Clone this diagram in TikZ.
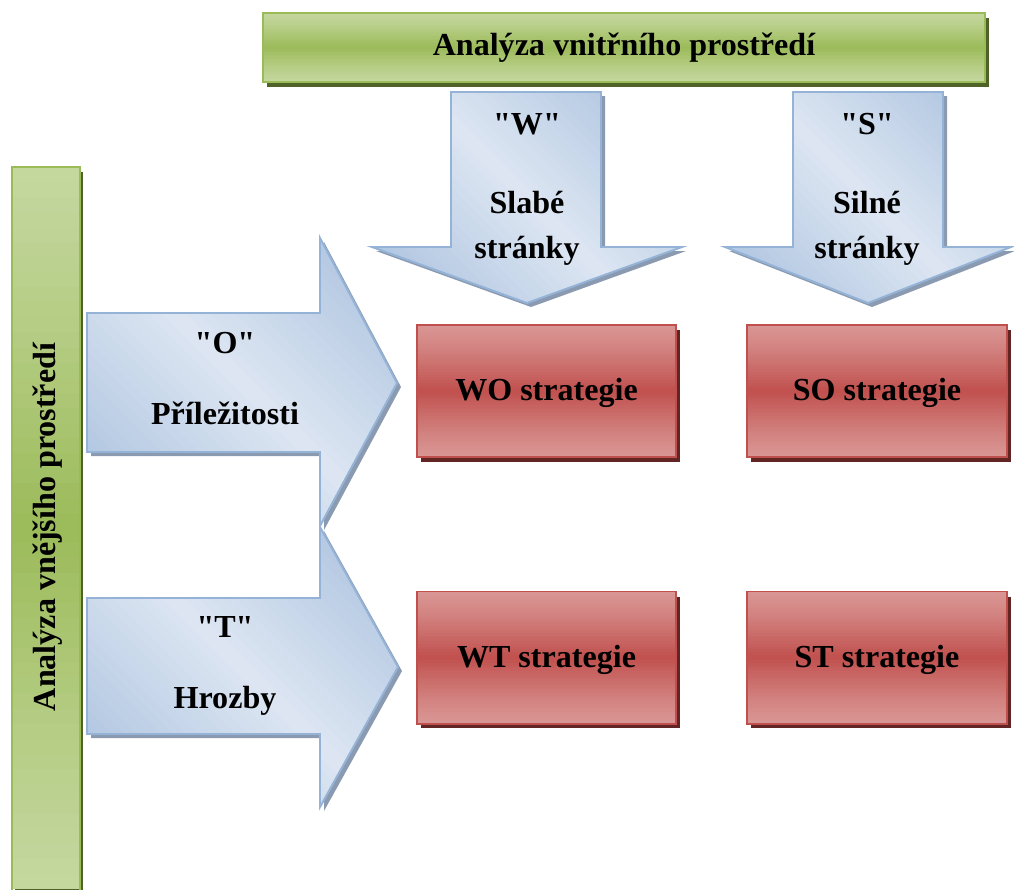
\documentclass[tikz,border=0pt]{standalone}
\usepackage{fontspec}
\newfontfamily\lbfont{Liberation Serif}
\definecolor{grnL}{HTML}{C4D79E}
\definecolor{grnD}{HTML}{9BBB59}
\definecolor{grnB}{HTML}{9BBB59}
\definecolor{grnS}{HTML}{4F6228}
\definecolor{bluL}{HTML}{DDE6F2}
\definecolor{bluD}{HTML}{A5BEDD}
\definecolor{bluB}{HTML}{95B3D7}
\definecolor{bluS}{HTML}{8A9AB0}
\definecolor{redL}{HTML}{D99694}
\definecolor{redD}{HTML}{C0504D}
\definecolor{redB}{HTML}{C0504D}
\definecolor{redS}{HTML}{632523}
% vertical three-stop gradient: x1 y1 x2 y2 light dark
\newcommand\vgrad[6]{%
  \pgfmathsetmacro\hh{(#4-#2)/48}%
  \foreach \i in {0,...,47}{%
    \pgfmathsetmacro\ya{#2+\hh*\i}%
    \pgfmathsetmacro\yb{min(#4,#2+\hh*(\i+1.4))}%
    \pgfmathsetmacro\p{100*(1-abs(2*(\i+0.5)/48-1))^1.2}%
    \fill[#6!\p!#5] (#1,\ya) rectangle (#3,\yb);
  }%
}
% diagonal gradient (dark lower-left and upper-right, light middle) inside current clip
\newcommand\dgrad[4]{%
  \pgfmathsetmacro\ca{#1-#4}%
  \pgfmathsetmacro\cw{(#3-#2-#1+#4)/48}%
  \foreach \i in {0,...,47}{%
    \pgfmathsetmacro\cu{\ca+\cw*\i}%
    \pgfmathsetmacro\cv{\ca+\cw*(\i+1.4)}%
    \pgfmathsetmacro\p{100*(1-abs(2*(\i+0.5)/48-1))}%
    \fill[bluL!\p!bluD] (\cu-300,-300) -- (\cu+1300,1300) -- (\cv+1300,1300) -- (\cv-300,-300) -- cycle;
  }%
}
\tikzset{
  lbl/.style={font=\lbfont\fontsize{22.8}{32}\selectfont\bfseries, align=center, inner sep=0pt},
  greenedge/.style={draw=grnB, line width=1.4pt},
  greenshadow/.style={fill=grnS},
  blueedge/.style={draw=bluB, line width=1.4pt},
  blueshadow/.style={fill=bluS},
  redbox/.style={draw=redB, line width=1.4pt, minimum width=6.475cm, minimum height=3.3cm, inner sep=0pt},
  redshadow/.style={fill=redS},
}
\begin{document}
\begin{tikzpicture}[x=0.025cm, y=-0.025cm]
\useasboundingbox (0,0) rectangle (1014,889);
\begin{scope}
\clip (0,0) rectangle (1014,889);
% ---------- top bar
\fill[greenshadow] (267,18) rectangle (989,87);
\vgrad{263}{13}{985}{82}{grnL}{grnD}
\node[greenedge, minimum width=18.05cm, minimum height=1.725cm, inner sep=0pt] (inner) at (624,47.5) {};
\node[lbl, anchor=base] (innerlbl) at (624,55) {Analýza vnitřního prostředí};
% ---------- left bar
\fill[greenshadow] (15,172) rectangle (83,905);
\vgrad{12}{167}{80}{889}{grnL}{grnD}
\draw[greenedge] (12,905) -- (12,167) -- (80,167) -- (80,905);
\node[lbl, rotate=90, anchor=base] (outer) at (55,527) {Analýza vnějšího prostředí};
% ---------- arrows
\def\wpath{(451,92) -- (601,92) -- (601,247) -- (682,247) -- (527,303) -- (372,247) -- (451,247) -- cycle}
\def\spath{(793,92) -- (943,92) -- (943,247) -- (1011,247) -- (868,303) -- (725,247) -- (793,247) -- cycle}
\def\opath{(87,313) -- (320,313) -- (320,238) -- (397,383) -- (320,526) -- (320,452) -- (87,452) -- cycle}
\def\tpath{(87,598) -- (320,598) -- (320,527) -- (398,667) -- (320,807) -- (320,734) -- (87,734) -- cycle}
\begin{scope}[shift={(4,4)}]
  \fill[blueshadow] \wpath; \fill[blueshadow] \spath;
  \fill[blueshadow] \opath; \fill[blueshadow] \tpath;
\end{scope}
\begin{scope}\clip \wpath; \dgrad{372}{92}{682}{303}\end{scope}
\draw[blueedge] \wpath;
\begin{scope}\clip \spath; \dgrad{725}{92}{1011}{303}\end{scope}
\draw[blueedge] \spath;
\begin{scope}\clip \opath; \dgrad{87}{238}{397}{526}\end{scope}
\draw[blueedge] \opath;
\begin{scope}\clip \tpath; \dgrad{87}{527}{398}{807}\end{scope}
\draw[blueedge] \tpath;
\end{scope}
% ---------- arrow labels
\node[lbl, anchor=base] (w) at (527,258) {"W"\\[24pt]Slabé\\stránky};
\node[lbl, anchor=base] (s) at (867,258) {"S"\\[24pt]Silné\\stránky};
\node[lbl, anchor=base] (o) at (225,424) {"O"\\[18pt]Příležitosti};
\node[lbl, anchor=base] (t) at (225,708) {"T"\\[18pt]Hrozby};
% ---------- strategy boxes
\fill[redshadow] (421,330) rectangle (680,462);
\vgrad{417}{325}{676}{457}{redL}{redD}
\node[redbox] (wo) at (546.5,391) {};
\node[lbl, anchor=base] (wol) at (546.5,400) {WO strategie};
\fill[redshadow] (751,330) rectangle (1011,462);
\vgrad{747}{325}{1007}{457}{redL}{redD}
\node[redbox] (so) at (877,391) {};
\node[lbl, anchor=base] (sol) at (877,400) {SO strategie};
\fill[redshadow] (421,597) rectangle (680,728);
\vgrad{417}{592}{676}{723}{redL}{redD}
\node[redbox] (wt) at (546.5,657.5) {};
\node[lbl, anchor=base] (wtl) at (546.5,667) {WT strategie};
\fill[redshadow] (751,597) rectangle (1011,728);
\vgrad{747}{592}{1007}{723}{redL}{redD}
\node[redbox] (st) at (877,657.5) {};
\node[lbl, anchor=base] (stl) at (877,667) {ST strategie};
\end{tikzpicture}
\end{document}
